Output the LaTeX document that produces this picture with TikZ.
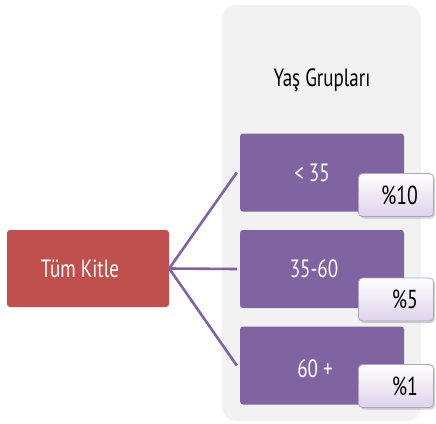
\documentclass[tikz,border=0pt]{standalone}
\usepackage{fontspec}
\setmainfont{PT Sans}[FakeStretch=0.76]
\usepackage{xcolor}
\usetikzlibrary{shadows}

\definecolor{kitleRed}{HTML}{C0504D}
\definecolor{grpPurple}{HTML}{8064A2}
\definecolor{panelGray}{HTML}{F2F2F2}
\definecolor{badgeLav}{HTML}{DCD3EA}
\definecolor{badgeEdge}{HTML}{B3A2C7}

\tikzset{
  panel/.style={fill=panelGray, rounded corners=14pt},
  wholebox/.style={fill=kitleRed, rounded corners=3pt, minimum width=162pt, minimum height=77pt},
  grpbox/.style={fill=grpPurple, rounded corners=3pt, minimum width=164pt, minimum height=78pt},
  boxtext/.style={text=white, font=\fontsize{25}{28}\selectfont},
  badge/.style={top color=white, bottom color=badgeLav, draw=badgeEdge, line width=0.8pt,
    rounded corners=4pt, minimum height=43pt, text width=44pt, inner xsep=15.5pt, align=right,
    font=\fontsize{26}{28}\selectfont,
    drop shadow={shadow xshift=1.5pt, shadow yshift=-2pt, opacity=0.35}},
  link/.style={draw=grpPurple, line width=2.6pt}
}

\begin{document}
\begin{tikzpicture}[x=1pt, y=-1pt]

        \useasboundingbox (0,0) rectangle (436,423);

        % ---------- Background panel ----------
        \fill[panel] (222,5) rectangle (421,421);
        \node[font=\fontsize{25}{28}\selectfont] (title) at (322,80) {Yaş Grupları};

        % ---------- Whole group ----------
        \node[wholebox, label={[boxtext, xshift=-8pt]center:Tüm Kitle}] (whole) at (88,268.5) {};

        % ---------- Age groups ----------
        \node[grpbox, label={[boxtext, xshift=-10pt]center:< 35}] (young) at (322,172.5) {};
        \node[grpbox, label={[boxtext, xshift=-8pt]center:35-60}] (middle) at (322,269) {};
        \node[grpbox, label={[boxtext, xshift=-7pt, yshift=-3pt]center:60 +}] (old) at (322,365.5) {};

        % ---------- Shares ----------
        \node[badge] (shareyoung) at (396,195) {\%10};
        \node[badge] (sharemiddle) at (396,299.5) {\%5};
        \node[badge] (shareold) at (396,386) {\%1};

        % connectors
        \draw[link] (whole.east) -- ([xshift=-3pt]young.west);
        \draw[link] (whole.east) -- ([xshift=-3pt]middle.west);
        \draw[link] (whole.east) -- ([xshift=-3pt]old.west);

\end{tikzpicture}
\end{document}
